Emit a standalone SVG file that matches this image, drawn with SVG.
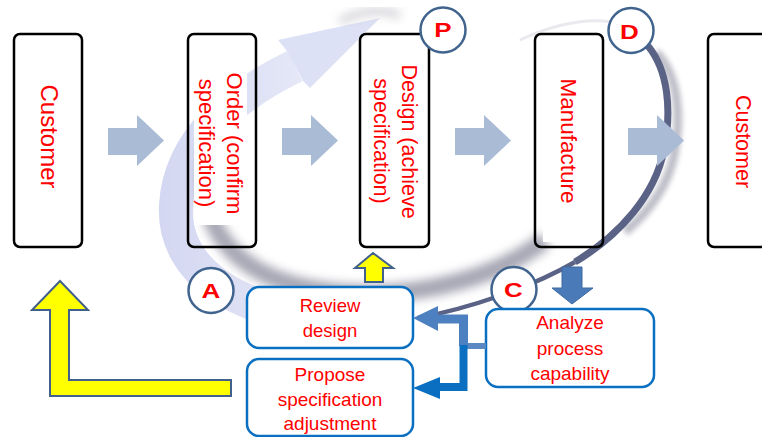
<svg xmlns="http://www.w3.org/2000/svg" width="762" height="437" viewBox="0 0 762 437">
<defs>
<style>
.box{fill:none;stroke:#000;stroke-width:2.5}
.bg{fill:#fff}
.lbl{font-family:"Liberation Sans",Arial,sans-serif;fill:#ff0000;text-anchor:middle}
.flow{fill:#aabbd6}
.stage{fill:#fff;stroke:#41648f;stroke-width:2.5}
.stl{font-family:"Liberation Sans",Arial,sans-serif;font-weight:bold;font-size:20px;fill:#ff0000;text-anchor:middle}
.act{fill:#fff;stroke:#0a6fc0;stroke-width:2.5}
.yel{fill:#ffff00;stroke:#41608c;stroke-width:2}
</style>
<filter id="blur" x="-30%" y="-30%" width="160%" height="160%"><feGaussianBlur stdDeviation="5"/></filter>
<filter id="blur2" x="-30%" y="-30%" width="160%" height="160%"><feGaussianBlur stdDeviation="2.5"/></filter>
<linearGradient id="lav" gradientUnits="userSpaceOnUse" x1="160" y1="0" x2="320" y2="0">
<stop offset="0" stop-color="#d3d7f1"/><stop offset="1" stop-color="#e8eaf8"/>
</linearGradient>
<path id="flowArrow" d="M0 13 H29 V0 L56 25.5 L29 51 V40 H0 Z"/>
</defs>
<rect width="762" height="437" fill="#fff"/>

<g id="cycle">
<path d="M 330 318 C 240 314, 172 272, 176 205 C 180 140, 235 95, 295 66" fill="none" stroke="url(#lav)" stroke-width="34"/>
<polygon points="287,51 278,40 380,18 310,88 303,81" fill="#dde1f5"/>
<path d="M 340 22 C 360 10, 385 8, 400 16" fill="none" stroke="#c4c4cc" stroke-width="8" filter="url(#blur)" opacity="0.7"/>
<path d="M 210 145 C 188 235, 245 288, 350 293 C 430 297, 500 275, 545 240" fill="none" stroke="#a8a8b6" stroke-width="18" filter="url(#blur)"/>
<path d="M 520 40 C 555 24, 585 18, 612 22" fill="none" stroke="#dadae2" stroke-width="3" opacity="0.6"/>
<path d="M 656 52 C 678 75, 682 115, 674 155 C 667 190, 645 215, 625 232" fill="none" stroke="#a4a4b2" stroke-width="9" filter="url(#blur2)" opacity="0.7"/>
<path d="M 648 46 C 668 70, 672 110, 664 150 C 655 195, 620 235, 575 262" fill="none" stroke="#5a6286" stroke-width="7"/>
<path d="M 575 262 C 530 288, 470 308, 418 318" fill="none" stroke="#5a6286" stroke-width="4.5"/>
</g>

<g id="flow-arrows" class="flow">
<use href="#flowArrow" transform="translate(108,115)"/>
<use href="#flowArrow" transform="translate(282,115)"/>
<use href="#flowArrow" transform="translate(455,115)"/>
<use href="#flowArrow" transform="translate(628,115)"/>
</g>

<g id="customer-in">
<rect class="box" x="14" y="34" width="68" height="213" rx="6"/>
<text class="lbl" font-size="24" transform="translate(41,136.5) rotate(90)">Customer</text>
</g>

<g id="order">
<rect class="bg" x="194" y="68" width="53" height="157"/>
<rect class="box" x="188" y="34" width="68" height="213" rx="6"/>
<text class="lbl" font-size="22" transform="translate(227,143.5) rotate(90)">Order (confirm</text>
<text class="lbl" font-size="22" transform="translate(199,143) rotate(90)">specification)</text>
</g>

<g id="design">
<rect class="bg" x="368" y="42" width="58" height="200"/>
<rect class="box" x="360" y="34" width="69" height="213" rx="6"/>
<text class="lbl" font-size="21.5" transform="translate(402,141.5) rotate(90)">Design (achieve</text>
<text class="lbl" font-size="21.5" transform="translate(374,141) rotate(90)">specification)</text>
</g>

<g id="manufacture">
<rect class="bg" x="543" y="36" width="52" height="206"/>
<rect class="box" x="535" y="34" width="68" height="213" rx="6"/>
<text class="lbl" font-size="22.5" transform="translate(561,141) rotate(90)">Manufacture</text>
</g>

<g id="customer-out">
<rect class="bg" x="712" y="36" width="52" height="208"/>
<rect class="box" x="708" y="34" width="70" height="213" rx="6"/>
<text class="lbl" font-size="21.5" transform="translate(736,141.5) rotate(90)">Customer</text>
</g>

<g id="stage-P">
<circle class="stage" cx="443" cy="30" r="22.5"/>
<text class="stl" transform="translate(443,37) scale(1.3,1)">P</text>
</g>
<g id="stage-D">
<circle class="stage" cx="631" cy="30.5" r="22.5"/>
<text class="stl" transform="translate(629.5,39) scale(1.3,1)">D</text>
</g>
<g id="stage-A">
<circle class="stage" cx="211" cy="290.5" r="22.5"/>
<text class="stl" transform="translate(211,298) scale(1.3,1)">A</text>
</g>
<g id="stage-C">
<circle class="stage" cx="514" cy="289.5" r="22.5"/>
<text class="stl" transform="translate(513.5,297) scale(1.3,1)">C</text>
</g>

<g id="review-design">
<rect class="act" x="247" y="287" width="166" height="61" rx="12"/>
<text class="lbl" font-size="18.5"><tspan x="330" y="312">Review</tspan><tspan x="330" y="337">design</tspan></text>
</g>

<g id="propose-adjustment">
<rect class="act" x="247" y="359" width="166" height="77" rx="12"/>
<text class="lbl" font-size="19"><tspan x="330" y="381">Propose</tspan><tspan x="330" y="406">specification</tspan><tspan x="330" y="430">adjustment</tspan></text>
</g>

<g id="analyze-capability">
<rect class="act" x="486" y="309" width="168" height="78" rx="12"/>
<text class="lbl" font-size="19"><tspan x="570" y="329">Analyze</tspan><tspan x="570" y="355">process</tspan><tspan x="570" y="380">capability</tspan></text>
</g>

<g id="connectors">
<polygon class="yel" points="373,253 393,268 383,268 383,282 365,282 365,268 355,268"/>
<polygon class="yel" points="60,281 88,310 69,310 69,380 231,380 231,396 50,396 50,310 32,310"/>
<polygon points="562,267 582,267 582,288 593,288 572,304 552,288 562,288" fill="#4a7ab8" stroke="#3d6aa3" stroke-width="1"/>
<rect x="463" y="343" width="23" height="6" fill="#5b89c3"/>
<path d="M 463.5 346 V 319 H 436" fill="none" stroke="#4d80c0" stroke-width="9"/>
<polygon points="413,318 438,306 438,331" fill="#4d80c0"/>
<path d="M 463.5 345 V 387 H 438" fill="none" stroke="#0a6fc0" stroke-width="8"/>
<polygon points="413,388 440,377 440,399" fill="#0a6fc0"/>
</g>
</svg>
